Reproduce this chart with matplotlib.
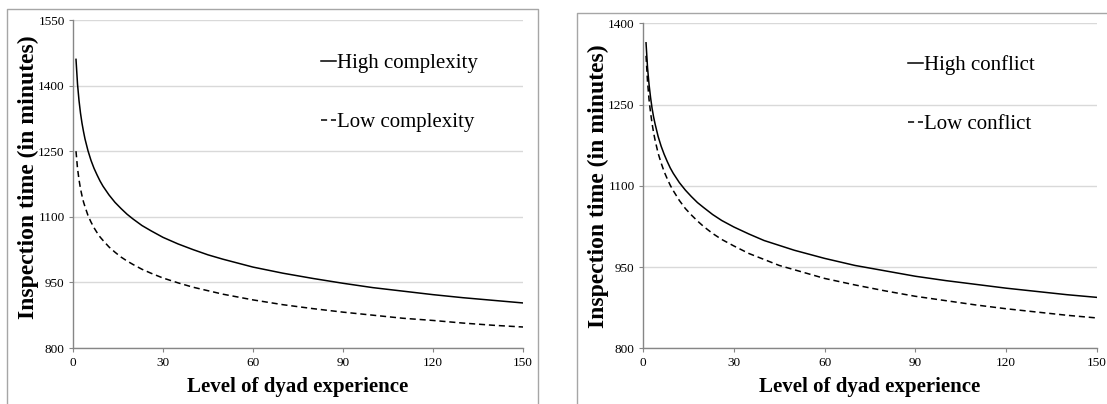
import matplotlib
matplotlib.use("Agg")
import matplotlib.pyplot as plt
from matplotlib.lines import Line2D

# serif font like the original (Times look)
plt.rcParams['font.family'] = ['Liberation Serif', 'DejaVu Serif']

# level of dyad experience (x values, denser where they bend)
experience = [1, 1.5, 2, 2.5, 3, 3.5, 4, 5, 6, 7, 8, 9, 10, 12, 14, 16, 18, 20, 23, 26, 30,
              35, 40, 45, 50, 60, 70, 80, 90, 100, 110, 120, 130, 140, 150]

# left chart - task complexity
high_complexity = [1460, 1404, 1366, 1337, 1314, 1295, 1278, 1251, 1229, 1211, 1196, 1182, 1170,
                   1150, 1133, 1119, 1106, 1095, 1080, 1068, 1053, 1038, 1025, 1013, 1003,
                   985, 971, 959, 948, 938, 930, 922, 915, 909, 903]
low_complexity = [1250, 1211, 1185, 1164, 1148, 1134, 1123, 1103, 1088, 1075, 1064, 1054, 1046,
                  1031, 1019, 1008, 999, 991, 980, 971, 960, 949, 939, 931, 923,
                  910, 899, 890, 882, 875, 868, 863, 857, 852, 848]

# right chart - conflict
high_conflict = [1364, 1318, 1287, 1263, 1243, 1227, 1214, 1191, 1173, 1158, 1145, 1133, 1123,
                 1106, 1092, 1080, 1069, 1060, 1047, 1036, 1024, 1011, 999, 990, 981,
                 966, 953, 943, 933, 925, 918, 911, 905, 899, 894]
low_conflict = [1340, 1292, 1259, 1235, 1215, 1198, 1184, 1160, 1142, 1126, 1113, 1101, 1091,
                1073, 1058, 1046, 1035, 1025, 1012, 1001, 989, 975, 964, 953, 945,
                929, 917, 906, 896, 888, 880, 873, 867, 861, 856]

x_ticks = [0, 30, 60, 90, 120, 150]
left_yticks = [800, 950, 1100, 1250, 1400, 1550]
right_yticks = [800, 950, 1100, 1250, 1400]

W, H = 1107.0, 404.0


def px_box(left, top, right, bottom):
    # pixel box -> figure fraction [l, b, w, h]
    return [left / W, 1 - bottom / H, (right - left) / W, (bottom - top) / H]


def frame_line(fig, xs, ys):
    fig.add_artist(Line2D([x / W for x in xs], [1 - y / H for y in ys],
                          color='#a6a6a6', lw=1.0, transform=fig.transFigure))


def style_panel(ax, yticks):
    ax.set_xlim(0, 150)
    ax.set_ylim(yticks[0], yticks[-1])
    ax.set_xticks(x_ticks)
    ax.set_yticks(yticks)
    ax.grid(axis='y', color='#d9d9d9', lw=1.0)
    ax.set_axisbelow(True)
    for s in ['top', 'right']:
        ax.spines[s].set_visible(False)
    for s in ['left', 'bottom']:
        ax.spines[s].set_color('#868686')
        ax.spines[s].set_linewidth(1.0)
    ax.tick_params(axis='both', labelsize=9.5, length=3, width=0.8, color='#868686')
    ax.tick_params(axis='x', pad=3.5)
    ax.tick_params(axis='y', pad=3)
    ax.set_xlabel('Level of dyad experience', fontsize=15, fontweight='bold')
    ax.set_ylabel('Inspection time (in minutes)', fontsize=17, fontweight='bold')
    ax.xaxis.label.set_va('center')
    ax.yaxis.label.set_va('center')


fig = plt.figure(figsize=(11.07, 4.04), dpi=100)

# outer chart borders
frame_line(fig, [7, 7, 538, 538], [410, 9, 9, 410])
frame_line(fig, [577, 577, 1110], [410, 13, 13])

ax1 = fig.add_axes(px_box(73, 20, 523, 348))
ax2 = fig.add_axes(px_box(643, 23.3, 1097, 348.3))

ax1.plot(experience, high_complexity, color='black', lw=1.1, label='High complexity')
ax1.plot(experience, low_complexity, color='black', lw=1.1, dashes=(4, 2.5), label='Low complexity')
style_panel(ax1, left_yticks)
ax1.xaxis.set_label_coords(0.5, -(387 - 348) / 328.0)
ax1.yaxis.set_label_coords(-0.1, 0.52)
ax1.legend(loc='upper left', bbox_to_anchor=(0.55, 0.898), frameon=False, fontsize=15,
           handlelength=0.72, handletextpad=0.05, labelspacing=1.9, borderpad=0, borderaxespad=0)

ax2.plot(experience, high_conflict, color='black', lw=1.1, label='High conflict')
ax2.plot(experience, low_conflict, color='black', lw=1.1, dashes=(4, 2.5), label='Low conflict')
style_panel(ax2, right_yticks)
ax2.xaxis.set_label_coords(0.5, -(387 - 348.3) / 325.0)
ax2.yaxis.set_label_coords(-0.099, 0.5)
ax2.legend(loc='upper left', bbox_to_anchor=(0.584, 0.902), frameon=False, fontsize=15,
           handlelength=0.72, handletextpad=0.05, labelspacing=1.9, borderpad=0, borderaxespad=0)

fig.savefig('out.png', dpi=100)
